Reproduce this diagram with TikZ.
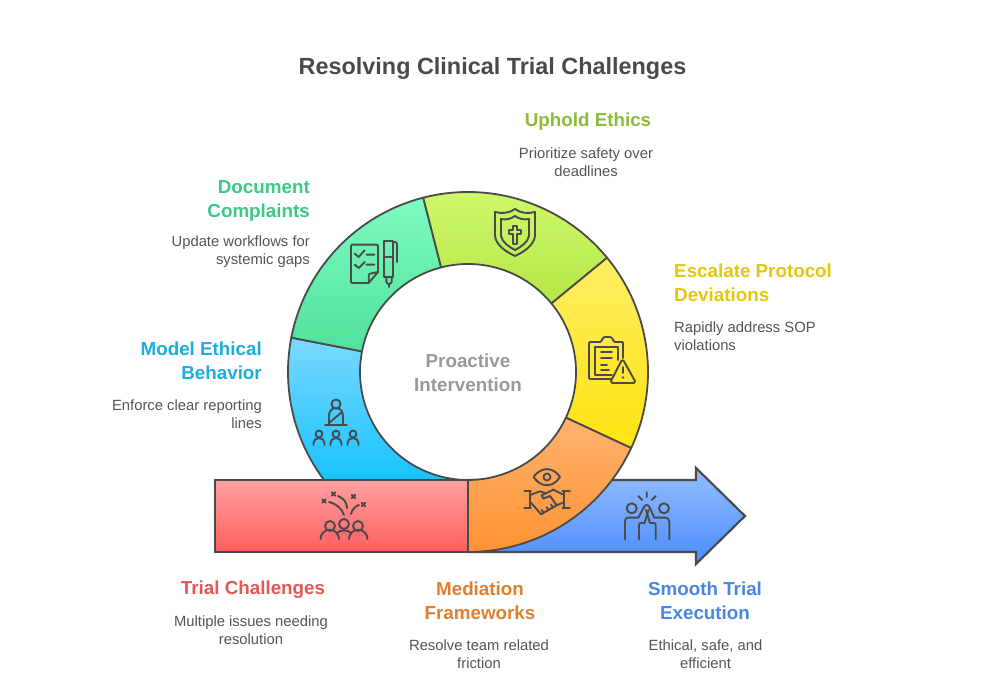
\documentclass[tikz,border=0pt]{standalone}
\usepackage{fontspec}
\setmainfont{Liberation Sans}
\definecolor{ink}{HTML}{4A4A4A}
\definecolor{bodyc}{HTML}{555555}
\tikzset{
  seg/.style={draw=ink,line width=1.8pt,line join=round},
  box/.style={draw=ink,line width=2.2pt,line join=miter},
  ico/.style={draw=ink,line width=1.9pt,line cap=round,line join=round,fill=none},
  head/.style={inner sep=0pt,font=\fontsize{18.8}{24}\selectfont\bfseries},
  desc/.style={inner sep=0pt,text=bodyc,font=\fontsize{14.8}{18}\selectfont}
}
\begin{document}
\begin{tikzpicture}[x=1pt,y=1pt]
\useasboundingbox (0,0) rectangle (984,687);
\fill[white] (0,0) rectangle (984,687);
\def\cx{468}\def\cy{315}
% arrow
\path[box,top color={rgb,255:red,147;green,189;blue,255},bottom color={rgb,255:red,76;green,141;blue,255}]
 (468,207)--(468,135)--(696,135)--(696,123)--(745,171)--(696,219)--(696,207)--cycle;
% cyan
\path[seg,top color={rgb,255:red,122;green,217;blue,255},bottom color={rgb,255:red,24;green,194;blue,255}]
 (\cx,\cy)++(169:180) arc[start angle=169,end angle=216.87,radius=180] -- (468,207) arc[start angle=270,end angle=169,radius=108] -- cycle;
% mint
\path[seg,top color={rgb,255:red,125;green,251;blue,192},bottom color={rgb,255:red,75;green,222;blue,150}]
 (\cx,\cy)++(104.4:180) arc[start angle=104.4,end angle=169,radius=180] -- ++(-11:72) arc[start angle=169,end angle=104.4,radius=108] -- cycle;
% lime
\path[seg,top color={rgb,255:red,208;green,250;blue,112},bottom color={rgb,255:red,166;green,220;blue,45}]
 (\cx,\cy)++(39.4:180) arc[start angle=39.4,end angle=104.4,radius=180] -- ++(-75.6:72) arc[start angle=104.4,end angle=39.4,radius=108] -- cycle;
% yellow
\path[seg,top color={rgb,255:red,255;green,238;blue,100},bottom color={rgb,255:red,255;green,227;blue,15}]
 (\cx,\cy)++(-25:180) arc[start angle=-25,end angle=39.4,radius=180] -- ++(219.4:72) arc[start angle=39.4,end angle=-25,radius=108] -- cycle;
% red
\path[box,top color={rgb,255:red,255;green,160;blue,160},bottom color={rgb,255:red,255;green,95;blue,95}]
 (215,207) rectangle (468,135);
% orange
\path[seg,top color={rgb,255:red,255;green,190;blue,133},bottom color={rgb,255:red,255;green,146;blue,51}]
 (\cx,\cy)++(-90:180) arc[start angle=-90,end angle=-25,radius=180] -- ++(155:72) arc[start angle=-25,end angle=-90,radius=108] -- cycle;
\draw[ink,line width=2.2pt] (468,207)--(468,135);
% ---- icons in pixel coordinates
\begin{scope}[shift={(0,687)},yscale=-1]
% trial
\foreach \a/\b in {330/526,344/524,358/526}{\draw[ico] (\a,\b) circle[radius=5];}
\draw[ico] (320.5,539) arc[start angle=180,end angle=360,radius=9.25];
\draw[ico] (349,539) arc[start angle=180,end angle=360,radius=9.25];
\draw[ico] (336.5,533.5) .. controls (339,531) and (341,530.5) .. (344,530.5) .. controls (347,530.5) and (349,531) .. (351.5,533.5);
\foreach \a/\b in {324/501,333.5/494,353.5/496.5,363.5/504.5}{\draw[ico] (\a-1.8,\b-1.8)--(\a+1.8,\b+1.8) (\a-1.8,\b+1.8)--(\a+1.8,\b-1.8);}
\draw[ico] (329,502) .. controls (337,504) and (342,509) .. (344,515);
\draw[ico] (338,496) .. controls (343,498) and (347,502) .. (347,508);
\draw[ico] (359,505) .. controls (355,506) and (352,510) .. (351,514);
% mediation
\draw[ico] (533.5,477) .. controls (541,466.5) and (553,466.5) .. (560,477) .. controls (553,488) and (541,488) .. (533.5,477) -- cycle;
\draw[ico] (547,477) circle[radius=3.5];
\draw[ico] (524.3,491.3)--(531,491.3) (524.3,507.7)--(531,507.7) (530,491.3)--(530,507.7);
\draw[ico] (562.5,491.3)--(570,491.3) (562.5,507.7)--(570,507.7) (564,491.3)--(564,507.7);
\draw[ico] (531,494.7)--(540,491.3)--(546,493.5);
\draw[ico] (562.7,494.3)--(553.3,489.7)--(541.7,495.3)--(543.3,498.7)--(550,496)--(556.7,505.3)--(562.7,502.7);
\draw[ico] (531,502.7)--(541,514.3)--(556.7,505.3);
\draw[ico] (543.5,512.8)--(541.7,510) (548.5,510)--(546.7,507.2) (553,507.5)--(551,504.5);
% high five
\draw[ico] (631.7,508.3) circle[radius=5];
\draw[ico] (664,508.3) circle[radius=5];
\draw[ico] (625,539.3)--(625,521.7) .. controls (625,519) and (626,517.7) .. (628,517.7) -- (638.3,517.7) -- (643.3,508.3) .. controls (644.5,505.5) and (645.5,505) .. (646.7,505) .. controls (648,505) and (649,505.5) .. (650,508.3) -- (654.3,517.7) -- (665,517.7) .. controls (668,517.7) and (669.3,519) .. (669.3,521.7) -- (669.3,539.3);
\draw[ico] (639,539.3)--(639,525) .. controls (639,523.5) and (640,523) .. (641,523) -- (644.5,523) -- (648.5,510);
\draw[ico] (655.7,539.3)--(655.7,525) .. controls (655.7,523.5) and (654.7,523) .. (653.7,523) -- (650,523) -- (646,510);
\draw[ico] (646.7,492.3)--(646.7,497.3) (638.3,496)--(642.3,500) (655.7,496)--(651.7,500);
% model
\draw[ico] (336,404) circle[radius=4.5];
\draw[ico] (329,425)--(329,416) .. controls (329,411) and (332,408) .. (336,408) .. controls (340,408) and (343,411) .. (343,416) -- (343,425);
\draw[ico] (325,425)--(347,425) (329,423)--(342,412);
\foreach \a in {319,336,353}{
 \draw[ico] (\a,434) circle[radius=3.4];
 \draw[ico] (\a-5.5,445)--(\a-5.5,443) .. controls (\a-5.5,440) and (\a-3,438) .. (\a,438) .. controls (\a+3,438) and (\a+5.5,440) .. (\a+5.5,443) -- (\a+5.5,445);}
% document
\draw[ico] (368.7,283)--(352,283)--(351,282)--(351,246)--(352,244.7)--(377,244.7)--(378,246)--(378,272)--(368.7,283)--(368.7,275)--(369.7,273.7)--(378,272);
\draw[ico] (354.7,253.7)--(358.7,257)--(364.7,250.3) (366.5,254.7)--(374.3,254.7);
\draw[ico] (354.7,264.7)--(358.7,268)--(364.7,262) (366.5,264.7)--(374.3,264.7);
\draw[ico] (384.3,241.3)--(392.7,241.3)--(392.7,277)--(384.3,277)--cycle (384.3,257)--(392.7,257);
\draw[ico] (386.3,277.7)--(386.3,282)--(389,284.7)--(391.7,282)--(391.7,277.7) (389,284.7)--(389,287);
\draw[ico] (392.7,242)--(395,242) .. controls (396.5,242) and (397,243) .. (397,245) -- (397,262);
% shield
\draw[ico] (515,209) .. controls (510,213) and (502,214) .. (495,212) -- (495,236) .. controls (496,245) and (506,252) .. (515,256) .. controls (524,252) and (534,245) .. (535,236) -- (535,212) .. controls (528,214) and (520,213) .. (515,209) -- cycle;
\draw[ico] (515,216) .. controls (511,219) and (506,220) .. (501,219) -- (501,236) .. controls (502,242) and (509,247) .. (515,250) .. controls (521,247) and (528,242) .. (529,236) -- (529,219) .. controls (524,220) and (519,219) .. (515,216) -- cycle;
\draw[ico] (512.8,226)--(517.2,226)--(517.2,230)--(521,230)--(521,234.4)--(517.2,234.4)--(517.2,244)--(512.8,244)--(512.8,234.4)--(509,234.4)--(509,230)--(512.8,230)--cycle;
% clipboard
\draw[ico] (612,379)--(590,379)--(589,378)--(589,343)--(590,342)--(600,342) .. controls (602,342) and (602,337) .. (605,337) -- (610,337) .. controls (613,337) and (613,342) .. (615,342) -- (622,342)--(623,343)--(623,358);
\draw[ico] (612,375)--(595,375)--(595,347)--(618,347)--(618,360);
\draw[ico] (601,352)--(612,352) (601,358)--(612,358) (601,365)--(607,365) (601,370)--(609,370);
\draw[ico] (621.5,360.5)--(623.5,360.5)--(635,381)--(634,383)--(612,383)--(611,381)--cycle;
\draw[ico] (623,367)--(623,373);
\fill[ink] (623,377.5) circle[radius=1.3];
\end{scope}
% ---- texts
\node[inner sep=0pt,text=ink,font=\fontsize{23.4}{29}\selectfont\bfseries] (title) at (492.5,618) {Resolving Clinical Trial Challenges};
\node[head,text={rgb,255:red,141;green,187;blue,58}] (uphold) at (588,565.5) {Uphold Ethics};
\node[desc,align=center] (upholdd) at (586,525) {Prioritize safety over\\deadlines};
\node[head,text={rgb,255:red,60;green,201;blue,138},align=right,anchor=east] (docu) at (310,486) {Document\\Complaints};
\node[desc,align=right,anchor=east] (docud) at (310,435) {Update workflows for\\systemic gaps};
\node[head,text={rgb,255:red,227;green,200;blue,15},align=left,anchor=west] (esc) at (674,404) {Escalate Protocol\\Deviations};
\node[desc,align=left,anchor=west] (escd) at (674,351) {Rapidly address SOP\\violations};
\node[head,text={rgb,255:red,27;green,174;blue,223},align=right,anchor=east] (model) at (262,326) {Model Ethical\\Behavior};
\node[desc,align=right,anchor=east] (modeld) at (262,273) {Enforce clear reporting\\lines};
\node[head,text={rgb,255:red,229;green,87;blue,87}] (trial) at (253,97) {Trial Challenges};
\node[desc,align=center] (triald) at (251,57) {Multiple issues needing\\resolution};
\node[head,text={rgb,255:red,224;green,127;blue,47},align=center] (med) at (480,86) {Mediation\\Frameworks};
\node[desc,align=center] (medd) at (479,33) {Resolve team related\\friction};
\node[head,text={rgb,255:red,74;green,134;blue,232},align=center] (smooth) at (705,86) {Smooth Trial\\Execution};
\node[desc,align=center] (smoothd) at (705.5,33) {Ethical, safe, and\\efficient};
\node[head,text={rgb,255:red,153;green,153;blue,153},align=center] (pro) at (468,314) {Proactive\\Intervention};
\end{tikzpicture}
\end{document}
